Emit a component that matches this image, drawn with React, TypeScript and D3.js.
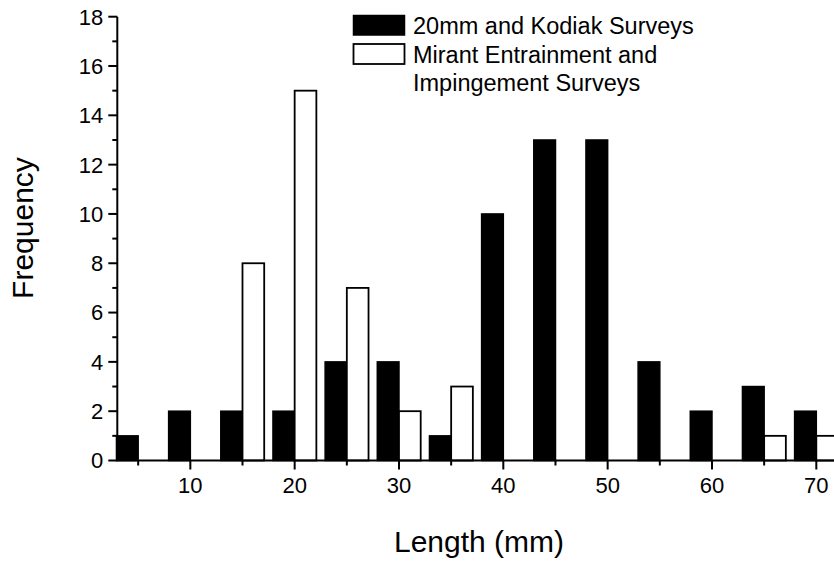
import React from "react";
import * as d3 from "d3";

// Length bins (mm), upper edge of each 5 mm class
const lengthBins = [5, 10, 15, 20, 25, 30, 35, 40, 45, 50, 55, 60, 65, 70];
// 20mm and Kodiak Surveys
const kodiakCounts = [1, 2, 2, 2, 4, 4, 1, 10, 13, 13, 4, 2, 3, 2];
// Mirant Entrainment and Impingement Surveys
const mirantCounts = [0, 0, 8, 15, 7, 2, 3, 0, 0, 0, 0, 0, 1, 1];

const yMajorTicks = [0, 2, 4, 6, 8, 10, 12, 14, 16, 18];
const yMinorTicks = [1, 3, 5, 7, 9, 11, 13, 15, 17];
const xMajorTicks = [10, 20, 30, 40, 50, 60, 70];
const xMinorTicks = [5, 15, 25, 35, 45, 55, 65];

const legendLines = [
  ["20mm and Kodiak Surveys"],
  ["Mirant Entrainment and", "Impingement Surveys"],
];

const W = 834;
const H = 561;
const FONT = "'Liberation Sans', Arial, Helvetica, sans-serif";
const BAR_MM = 2.08;

export default function App() {
  const x = d3.scaleLinear().domain([3, 72]).range([117.3, 117.3 + 69 * 10.433]);
  const y = d3.scaleLinear().domain([0, 18]).range([460.5, 16.7]);
  const x0 = x.range()[0];
  const y0 = y(0);

  return (
    <svg
      width={W}
      height={H}
      viewBox={`0 0 ${W} ${H}`}
      style={{ position: "absolute", left: 0, top: 0, background: "#fff" }}
      fontFamily={FONT}
    >
      <rect x={0} y={0} width={W} height={H} fill="#fff" />

      {/* Kodiak bars sit just left of each bin edge */}
      {lengthBins.map((c, i) =>
        kodiakCounts[i] > 0 ? (
          <rect
            key={`k${c}`}
            x={x(c - BAR_MM)}
            y={y(kodiakCounts[i])}
            width={x(c) - x(c - BAR_MM)}
            height={y0 - y(kodiakCounts[i])}
            fill="#000"
            stroke="#000"
            strokeWidth={1.5}
          />
        ) : null
      )}

      {/* Mirant bars sit just right of each bin edge */}
      {lengthBins.map((c, i) =>
        mirantCounts[i] > 0 ? (
          <rect
            key={`m${c}`}
            x={x(c)}
            y={y(mirantCounts[i])}
            width={x(c + BAR_MM) - x(c)}
            height={y0 - y(mirantCounts[i])}
            fill="#fff"
            stroke="#000"
            strokeWidth={1.8}
          />
        ) : null
      )}

      {/* Y axis */}
      <line x1={x0} x2={x0} y1={y(18)} y2={y0} stroke="#000" strokeWidth={2} />
      {yMajorTicks.map((t) => (
        <g key={`ym${t}`}>
          <line x1={x0 - 9} x2={x0} y1={y(t)} y2={y(t)} stroke="#000" strokeWidth={2} />
          <text
            x={x0 - 14}
            y={y(t)}
            dy="0.36em"
            textAnchor="end"
            fontSize={22}
            fill="#000"
          >
            {t}
          </text>
        </g>
      ))}
      {yMinorTicks.map((t) => (
        <line key={`yn${t}`} x1={x0 - 5} x2={x0} y1={y(t)} y2={y(t)} stroke="#000" strokeWidth={2} />
      ))}

      {/* X axis */}
      <line x1={x0 - 1} x2={W} y1={y0} y2={y0} stroke="#000" strokeWidth={2} />
      {xMajorTicks.map((t) => (
        <g key={`xm${t}`}>
          <line x1={x(t)} x2={x(t)} y1={y0} y2={y0 + 9} stroke="#000" strokeWidth={2} />
          <text x={x(t)} y={493} textAnchor="middle" fontSize={22} fill="#000">
            {t}
          </text>
        </g>
      ))}
      {xMinorTicks.map((t) => (
        <line key={`xn${t}`} x1={x(t)} x2={x(t)} y1={y0} y2={y0 + 5} stroke="#000" strokeWidth={2} />
      ))}

      {/* Axis titles */}
      <text x={479} y={552} textAnchor="middle" fontSize={30} fill="#000">
        Length (mm)
      </text>
      <text
        transform={`translate(33, 228) rotate(-90)`}
        textAnchor="middle"
        fontSize={30}
        fill="#000"
      >
        Frequency
      </text>

      {/* Legend */}
      <rect x={353.5} y={15.5} width={51} height={19.5} fill="#000" stroke="#000" strokeWidth={1.5} />
      <rect x={353.5} y={44} width={51} height={20} fill="#fff" stroke="#000" strokeWidth={1.8} />
      <text x={413} y={33.5} fontSize={23.5} fill="#000">
        {legendLines[0][0]}
      </text>
      <text x={413} y={62.5} fontSize={23.5} fill="#000">
        {legendLines[1][0]}
      </text>
      <text x={413} y={90.5} fontSize={23.5} fill="#000">
        {legendLines[1][1]}
      </text>
    </svg>
  );
}
